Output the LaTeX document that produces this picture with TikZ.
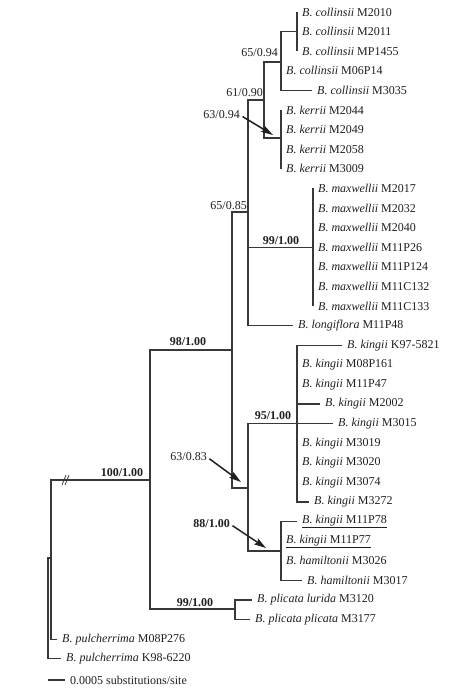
\documentclass[tikz,border=0pt]{standalone}
\usepackage{fontspec}
\setmainfont{Liberation Serif}
\usetikzlibrary{arrows.meta}

\begin{document}
\begin{tikzpicture}[
    x=1pt, y=-1pt,
    leaf/.style={anchor=west, inner xsep=5pt, inner ysep=1pt, font=\fontsize{12}{14}\selectfont, text=black!88},
    support/.style={inner sep=0pt, font=\fontsize{12}{14}\selectfont, text=black!88},
    strong/.style={support, font=\fontsize{12}{14}\selectfont\bfseries},
    branch/.style={draw=black!78, line width=1.1pt},
    arrow/.style={-{Stealth[length=12pt, width=7pt, inset=2pt]}, line width=1.5pt, black!88}
]
    \useasboundingbox (0,0) rectangle (474,693);

    % internal nodes
    \coordinate (root) at (51,558);
    \coordinate (rootb) at (48,558);
    \coordinate (n100) at (150,480);
    \coordinate (n98) at (232,350);
    \coordinate (npl) at (235,609);
    \coordinate (n85) at (248,212);
    \coordinate (n83) at (248,488);
    \coordinate (n90) at (264,100);
    \coordinate (nmx) at (313,247.2);
    \coordinate (ncol) at (281,62);
    \coordinate (nker) at (281,138);
    \coordinate (ncolA) at (297,31.6);
    \coordinate (n95) at (297,423.6);
    \coordinate (n88) at (281,551);

    % leaves
    \node[leaf] (c2010) at (297,12) {\textit{B. collinsii} M2010};
    \node[leaf] (c2011) at (297,31.6) {\textit{B. collinsii} M2011};
    \node[leaf] (c1455) at (297,51.2) {\textit{B. collinsii} MP1455};
    \node[leaf] (c0614) at (281,70.8) {\textit{B. collinsii} M06P14};
    \node[leaf] (c3035) at (312,90.4) {\textit{B. collinsii} M3035};
    \node[leaf] (k2044) at (281,110) {\textit{B. kerrii} M2044};
    \node[leaf] (k2049) at (281,129.6) {\textit{B. kerrii} M2049};
    \node[leaf] (k2058) at (281,149.2) {\textit{B. kerrii} M2058};
    \node[leaf] (k3009) at (281,168.8) {\textit{B. kerrii} M3009};
    \node[leaf] (m2017) at (313,188.4) {\textit{B. maxwellii} M2017};
    \node[leaf] (m2032) at (313,208) {\textit{B. maxwellii} M2032};
    \node[leaf] (m2040) at (313,227.6) {\textit{B. maxwellii} M2040};
    \node[leaf] (m1126) at (313,247.2) {\textit{B. maxwellii} M11P26};
    \node[leaf] (m1124) at (313,266.8) {\textit{B. maxwellii} M11P124};
    \node[leaf] (m1132) at (313,286.4) {\textit{B. maxwellii} M11C132};
    \node[leaf] (m1133) at (313,306) {\textit{B. maxwellii} M11C133};
    \node[leaf] (lon) at (293,325.6) {\textit{B. longiflora} M11P48};
    \node[leaf] (g5821) at (342,345.2) {\textit{B. kingii} K97-5821};
    \node[leaf] (g0161) at (297,364.8) {\textit{B. kingii} M08P161};
    \node[leaf] (g1147) at (297,384.4) {\textit{B. kingii} M11P47};
    \node[leaf] (g2002) at (320,404) {\textit{B. kingii} M2002};
    \node[leaf] (g3015) at (333,423.6) {\textit{B. kingii} M3015};
    \node[leaf] (g3019) at (297,443.2) {\textit{B. kingii} M3019};
    \node[leaf] (g3020) at (297,462.8) {\textit{B. kingii} M3020};
    \node[leaf] (g3074) at (297,482.4) {\textit{B. kingii} M3074};
    \node[leaf] (g3272) at (309,502) {\textit{B. kingii} M3272};
    \node[leaf] (g1178) at (297,521.6) {\underline{\textit{B. kingii} M11P78}};
    \node[leaf] (g1177) at (281,541.2) {\underline{\textit{B. kingii} M11P77}};
    \node[leaf] (h3026) at (281,560.8) {\textit{B. hamiltonii} M3026};
    \node[leaf] (h3017) at (302,580.4) {\textit{B. hamiltonii} M3017};
    \node[leaf] (plu) at (252,600) {\textit{B. plicata lurida} M3120};
    \node[leaf] (ppl) at (250,619.6) {\textit{B. plicata plicata} M3177};
    \node[leaf] (pu276) at (57,639.2) {\textit{B. pulcherrima} M08P276};
    \node[leaf] (pu6220) at (61,658.8) {\textit{B. pulcherrima} K98-6220};

    % branches
    \draw[branch] (root) |- (n100);
    \draw[branch] (root) |- (pu276.west);
    \draw[branch] (root) -- (rootb) |- (pu6220.west);
    \draw[branch] (n100) |- (n98);
    \draw[branch] (n100) |- (npl);
    \draw[branch] (npl) |- (plu.west);
    \draw[branch] (npl) |- (ppl.west);
    \draw[branch] (n98) |- (n85);
    \draw[branch] (n98) |- (n83);
    \draw[branch] (n85) |- (n90);
    \draw[branch] (n85) |- (nmx);
    \draw[branch] (n85) |- (lon.west);
    \draw[branch] (n90) |- (ncol);
    \draw[branch] (n90) |- (nker);
    \draw[branch] (ncol) |- (ncolA);
    \draw[branch] (ncol) |- (c0614.west);
    \draw[branch] (ncol) |- (c3035.west);
    \draw[branch] (ncolA) |- (c2010.west);
    \draw[branch] (ncolA) |- (c1455.west);
    \draw[branch] (nker) |- (k2044.west);
    \draw[branch] (nker) |- (k3009.west);
    \draw[branch] (nmx) |- (m2017.west);
    \draw[branch] (nmx) |- (m1133.west);
    \draw[branch] (n83) |- (n95);
    \draw[branch] (n83) |- (n88);
    \draw[branch] (n95) |- (g5821.west);
    \draw[branch] (n95) -- (g2002.west -| n95) -- (g2002.west);
    \draw[branch] (n95) -- (g3015.west);
    \draw[branch] (n95) |- (g3272.west);
    \draw[branch] (n88) |- (g1178.west);
    \draw[branch] (n88) |- (h3017.west);

    % long branch break
    \draw[branch, line width=0.8pt] (62,485) -- (66,475) (65,485) -- (69,475);

    % support values
    \node[support, anchor=east] (s6594) at (278,53) {65/0.94};
    \node[support, anchor=east] (s6190) at (263,93) {61/0.90};
    \node[support, anchor=east] (s6394) at (240,115) {63/0.94};
    \node[support, anchor=east] (s6585) at (247,206) {65/0.85};
    \node[strong] (s9910) at (281,241) {99/1.00};
    \node[strong] (s9810) at (188,342) {98/1.00};
    \node[strong] (s9510) at (273,416) {95/1.00};
    \node[support, anchor=east] (s6383) at (207,457) {63/0.83};
    \node[strong] (s10010) at (122,473) {100/1.00};
    \node[strong, anchor=east] (s8810) at (230,524) {88/1.00};
    \node[strong] (s9911) at (195,603) {99/1.00};

    % arrows to short internodes
    \coordinate (a6394) at (273,135);
    \coordinate (a6383) at (241,482);
    \coordinate (a8810) at (266,548);
    \draw[arrow, shorten <=3pt] (s6394.east) -- (a6394);
    \draw[arrow, shorten <=3pt] (s6383.east) -- (a6383);
    \draw[arrow, shorten <=3pt] (s8810.east) -- (a8810);

    % scale bar
    \coordinate (sb0) at (48,680);
    \coordinate (sb1) at (65,680);
    \draw[branch] (sb0) -- (sb1);
    \node[leaf] (sbt) at (sb1) {0.0005 substitutions/site};
\end{tikzpicture}
\end{document}
